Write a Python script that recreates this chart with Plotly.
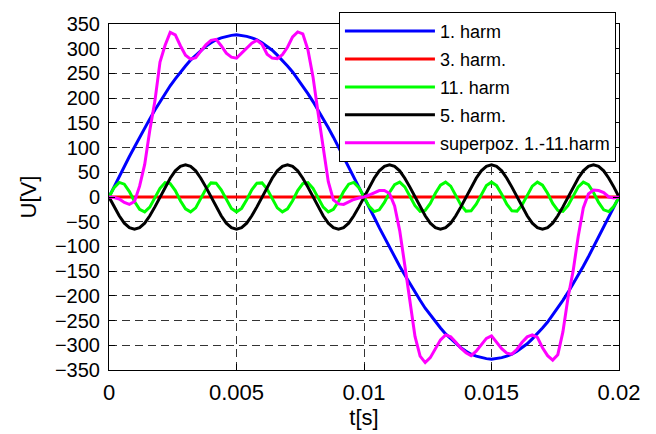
import plotly.graph_objects as go

# time samples [s]
t = [0.0, 0.0002, 0.0004, 0.0006, 0.0008, 0.001, 0.0012, 0.0014, 0.0016, 0.0018,
     0.002, 0.0022, 0.0024, 0.0026, 0.0028, 0.003, 0.0032, 0.0034, 0.0036, 0.0038,
     0.004, 0.0042, 0.0044, 0.0046, 0.0048, 0.005, 0.0052, 0.0054, 0.0056, 0.0058,
     0.006, 0.0062, 0.0064, 0.0066, 0.0068, 0.007, 0.0072, 0.0074, 0.0076, 0.0078,
     0.008, 0.0082, 0.0084, 0.0086, 0.0088, 0.009, 0.0092, 0.0094, 0.0096, 0.0098,
     0.01, 0.0102, 0.0104, 0.0106, 0.0108, 0.011, 0.0112, 0.0114, 0.0116, 0.0118,
     0.012, 0.0122, 0.0124, 0.0126, 0.0128, 0.013, 0.0132, 0.0134, 0.0136, 0.0138,
     0.014, 0.0142, 0.0144, 0.0146, 0.0148, 0.015, 0.0152, 0.0154, 0.0156, 0.0158,
     0.016, 0.0162, 0.0164, 0.0166, 0.0168, 0.017, 0.0172, 0.0174, 0.0176, 0.0178,
     0.018, 0.0182, 0.0184, 0.0186, 0.0188, 0.019, 0.0192, 0.0194, 0.0196, 0.0198,
     0.02]

harm1 = [0, 21, 41, 62, 82, 101, 121, 140, 158, 176, 193, 209, 225, 239, 253, 265, 277, 287, 297, 305,
         312, 318, 322, 325, 327, 328, 327, 325, 322, 318, 312, 305, 297, 287, 277, 265, 253, 239, 225, 209,
         193, 176, 158, 140, 121, 101, 82, 62, 41, 21, 0, -21, -41, -62, -82, -101, -121, -140, -158, -176,
         -193, -209, -225, -239, -253, -265, -277, -287, -297, -305, -312, -318, -322, -325, -327, -328, -327, -325, -322, -318,
         -312, -305, -297, -287, -277, -265, -253, -239, -225, -209, -193, -176, -158, -140, -121, -101, -82, -62, -41, -21,
         0]

t3 = [0.0, 0.02]
harm3 = [0, 0]

harm11 = [0, 19, 29.5, 26, 11, -9, -25, -30, -20.5, -2, 17.5, 29, 27, 13, -7.5, -24, -30, -22, -4, 16,
          28.5, 28, 14.5, -5.5, -23, -30, -23, -5.5, 14.5, 28, 28.5, 16, -4, -22, -30, -24, -7.5, 13, 27, 29,
          17.5, -2, -20.5, -30, -25, -9, 11, 26, 29.5, 19, 0, -19, -29.5, -26, -11, 9, 25, 30, 20.5, 2,
          -17.5, -29, -27, -13, 7.5, 24, 30, 22, 4, -16, -28.5, -28, -14.5, 5.5, 23, 30, 23, 5.5, -14.5, -28,
          -28.5, -16, 4, 22, 30, 24, 7.5, -13, -27, -29, -17.5, 2, 20.5, 30, 25, 9, -11, -26, -29.5, -19,
          0]

harm5 = [0, -20, -38, -53, -62, -65, -62, -53, -38, -20, 0, 20, 38, 53, 62, 65, 62, 53, 38, 20,
         0, -20, -38, -53, -62, -65, -62, -53, -38, -20, 0, 20, 38, 53, 62, 65, 62, 53, 38, 20,
         0, -20, -38, -53, -62, -65, -62, -53, -38, -20, 0, 20, 38, 53, 62, 65, 62, 53, 38, 20,
         0, -20, -38, -53, -62, -65, -62, -53, -38, -20, 0, 20, 38, 53, 62, 65, 62, 53, 38, 20,
         0, -20, -38, -53, -62, -65, -62, -53, -38, -20, 0, 20, 38, 53, 62, 65, 62, 53, 38, 20,
         0]

superpoz = [0, -1, -4, -11, -15, -9, 22, 66, 135, 194, 273, 307, 333, 328, 306, 287, 279, 282, 295, 308,
            317, 319, 306, 291, 283, 281, 291, 300, 311, 317, 309, 289, 281, 280, 288, 303, 324, 334, 330, 298,
            243, 170, 97, 31, -6, -14, -15, -10, -5, -2, 0, 4, 9, 13, 13, 7, -18, -68, -138, -213,
            -282, -322, -335, -325, -306, -289, -279, -283, -294, -306, -315, -321, -312, -298, -286, -281, -295, -307, -316, -318,
            -308, -294, -283, -279, -284, -305, -321, -330, -319, -273, -204, -150, -80, -22, 6, 14, 13, 9, 0, -2,
            0]

names = ["1. harm", "3. harm.", "11. harm", "5. harm.", "superpoz. 1.-11.harm"]
colors = ["#0000FF", "#FF0000", "#00FF00", "#000000", "#FF00FF"]

x_tickvals = [0, 0.005, 0.01, 0.015, 0.02]
x_ticktext = ["0", "0.005", "0.01", "0.015", "0.02"]
y_tickvals = [-350, -300, -250, -200, -150, -100, -50, 0, 50, 100, 150, 200, 250, 300, 350]

series = [(t, harm1), (t3, harm3), (t, harm11), (t, harm5), (t, superpoz)]

fig = go.Figure()
for i, ((xs, ys), nm, col) in enumerate(zip(series, names, colors)):
    fig.add_trace(go.Scatter(x=xs, y=ys, mode="lines", name=nm, legendgroup="g%d" % i,
                             line=dict(color=col, width=3)))

FONT = "Liberation Sans, Arial, sans-serif"
axis_common = dict(showline=True, linecolor="black", linewidth=1, mirror="ticks",
                   ticks="inside", ticklen=6, tickcolor="black", showgrid=True,
                   gridcolor="#333333", gridwidth=1, griddash="8px,5px", zeroline=False)

# page body has an 8px default margin, so the figure is sized to fit the window
fig.update_layout(
    width=648, height=426,
    margin=dict(l=101, r=37, t=16, b=64, autoexpand=False),
    paper_bgcolor="white", plot_bgcolor="white",
    font=dict(family=FONT, color="black"),
    xaxis=dict(range=[0, 0.02], tickvals=x_tickvals, ticktext=x_ticktext,
               tickfont=dict(size=22, family=FONT), ticklabelstandoff=3,
               title=dict(text="t[s]", font=dict(size=22, family=FONT), standoff=5),
               **axis_common),
    yaxis=dict(range=[-350, 350], tickvals=y_tickvals,
               tickfont=dict(size=20, family=FONT), ticklabelstandoff=4,
               title=dict(text="U[V]", font=dict(size=22, family=FONT), standoff=12),
               **axis_common),
    legend=dict(x=0.994, xanchor="right", y=1.035, yanchor="top",
                bgcolor="white", bordercolor="black", borderwidth=1,
                font=dict(size=18, family=FONT), itemwidth=90,
                tracegroupgap=1.5, traceorder="grouped"),
    showlegend=True,
)

fig.write_html("out.html")
